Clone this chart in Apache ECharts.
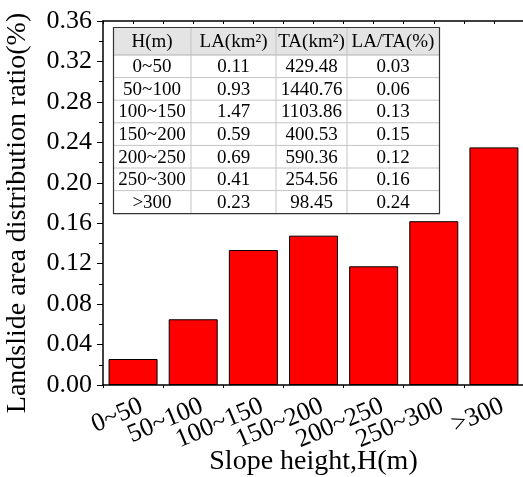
<!DOCTYPE html>
<html><head><meta charset="utf-8">
<script src="https://cdn.jsdelivr.net/npm/echarts@6/dist/echarts.min.js"></script>
<style>html,body{margin:0;padding:0;background:#fff}#c{width:523px;height:477px}</style>
</head><body><div id="c"></div>
<script>
var categories = ['0~50','50~100','100~150','150~200','200~250','250~300','>300'];
var ratioValues = [0.0257, 0.065, 0.1335, 0.1477, 0.1174, 0.162, 0.235];
var yTicks = [0, 0.04, 0.08, 0.12, 0.16, 0.20, 0.24, 0.28, 0.32, 0.36];
var tableHeader = ['H(m)', 'LA(km\u00B2)', 'TA(km\u00B2)', 'LA/TA(%)'];
var tableLA = ['0.11','0.93','1.47','0.59','0.69','0.41','0.23'];
var tableTA = ['429.48','1440.76','1103.86','400.53','590.36','254.56','98.45'];
var tableRatio = ['0.03','0.06','0.13','0.15','0.12','0.16','0.24'];

var FONT = 'Liberation Serif';
var chart = echarts.init(document.getElementById('c'), null, {renderer:'canvas'});

// table layout
var tx = [113, 191, 276, 347, 439];
var tyTop = 27, headH = 28, rowH = 22.6;
var nRows = categories.length;
var tBottom = tyTop + headH + rowH * nRows;
var g = [];
g.push({type:'rect', shape:{x:tx[0], y:tyTop, width:tx[4]-tx[0], height:headH}, style:{fill:'#e4e4e4'}, z:10});
for (var r = 1; r < nRows; r++) {
  var yy = tyTop + headH + rowH * r;
  g.push({type:'line', shape:{x1:tx[0], y1:yy, x2:tx[4], y2:yy}, style:{stroke:'#c4c4c4', lineWidth:1}, z:11});
}
g.push({type:'line', shape:{x1:tx[0], y1:tyTop+headH, x2:tx[4], y2:tyTop+headH}, style:{stroke:'#b0b0b0', lineWidth:1}, z:11});
for (var c = 1; c < 4; c++) {
  g.push({type:'line', shape:{x1:tx[c], y1:tyTop, x2:tx[c], y2:tBottom}, style:{stroke:'#c4c4c4', lineWidth:1}, z:11});
}
g.push({type:'rect', shape:{x:tx[0]+0.5, y:tyTop+0.5, width:tx[4]-tx[0], height:tBottom-tyTop}, style:{fill:'none', stroke:'#333', lineWidth:1.2}, z:12});
function cellText(t, col, y) {
  g.push({type:'text', z:13, style:{text:t, x:(tx[col]+tx[col+1])/2, y:y, align:'center', verticalAlign:'middle', fontSize:19, fontFamily:FONT, fill:'#000'}});
}
for (var c2 = 0; c2 < 4; c2++) cellText(tableHeader[c2], c2, tyTop + headH/2 + 1);
for (var i = 0; i < nRows; i++) {
  var cy = tyTop + headH + rowH * i + rowH/2 + 1;
  cellText(categories[i], 0, cy);
  cellText(tableLA[i], 1, cy);
  cellText(tableTA[i], 2, cy);
  cellText(tableRatio[i], 3, cy);
}

chart.setOption({
  animation:false,
  backgroundColor:'#fff',
  grid:{left:103, top:21, width:421, height:364, containLabel:false, outerBoundsMode:'none'},
  xAxis:[{
    type:'category', data:categories, position:'bottom',
    axisLine:{onZero:false, lineStyle:{color:'#000', width:1.5}},
    axisTick:{show:true, inside:false, length:3, lineStyle:{color:'#000'}, alignWithLabel:false},
    axisLabel:{interval:0, rotate:23, fontSize:26, fontFamily:FONT, color:'#000', margin:0,
      verticalAlign:'top', lineHeight:44},
    name:'Slope height,H(m)', nameLocation:'middle', nameGap:63, nameMoveOverlap:false,
    nameTextStyle:{fontSize:28, fontFamily:FONT, color:'#000'},
    splitLine:{show:false}
  },{
    type:'value', position:'top', min:-0.5, max:6.5, interval:0.5,
    axisLine:{show:true, onZero:false, lineStyle:{color:'#000', width:1.5}},
    axisTick:{show:true, inside:true, length:3, lineStyle:{color:'#000'}},
    axisLabel:{show:false}, splitLine:{show:false}
  }],
  yAxis:{
    type:'value', min:0, max:0.36, interval:0.04,
    axisLine:{show:true, onZero:false, lineStyle:{color:'#000', width:1.5}},
    axisTick:{show:true, inside:false, length:6, lineStyle:{color:'#000'}},
    minorTick:{show:true, splitNumber:2, length:4, lineStyle:{color:'#000'}},
    axisLabel:{fontSize:26, fontFamily:FONT, color:'#000', margin:11,
      formatter:function(v){return v.toFixed(2);}},
    splitLine:{show:false},
    name:'Landslide area distribution ratio(%)', nameLocation:'middle', nameGap:71, nameMoveOverlap:false,
    nameTextStyle:{fontSize:28, fontFamily:FONT, color:'#000', padding:[0,20,0,0]}
  },
  series:[{
    type:'bar', data:ratioValues, xAxisIndex:0, barWidth:49,
    itemStyle:{color:'#ff0000', borderColor:'#000', borderWidth:1}
  }],
  graphic:g
});
</script></body></html>
